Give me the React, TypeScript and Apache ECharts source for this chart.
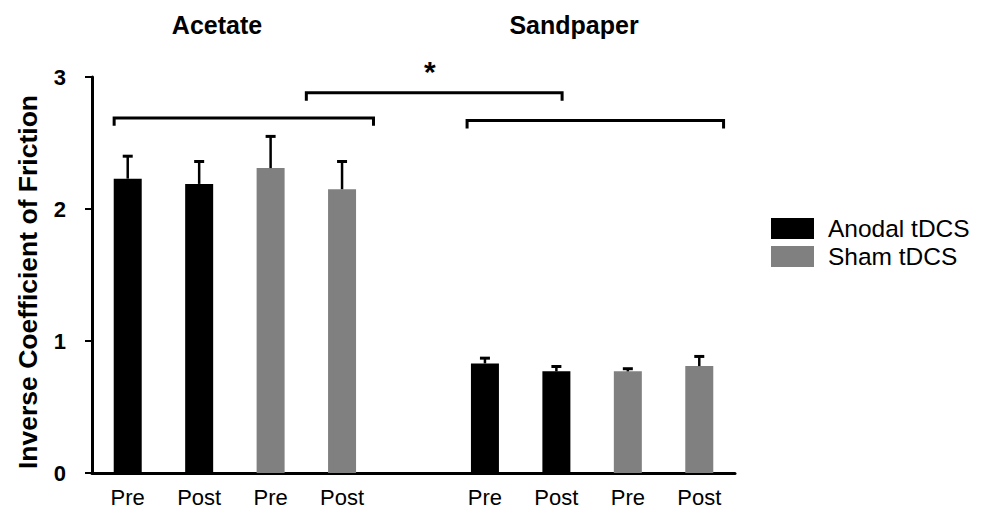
import React, { useEffect, useRef } from "react";
import * as echarts from "echarts";

const categories = ["Pre", "Post", "Pre", "Post", "", "Pre", "Post", "Pre", "Post"];
const anodalValues: (number | string)[] = [2.23, 2.19, "-", "-", "-", 0.83, 0.77, "-", "-"];
const shamValues: (number | string)[] = ["-", "-", 2.31, 2.15, "-", "-", "-", 0.77, 0.81];
const errorUpper: (number | null)[] = [0.17, 0.17, 0.24, 0.21, null, 0.04, 0.037, 0.02, 0.073];
const yTicks = [0, 1, 2, 3];
const groupTitles = ["Acetate", "Sandpaper"];
// brackets: [fromIndex, toIndex, level, drop]
const brackets: number[][] = [
  [-0.19, 3.44, 2.69, 0.06],
  [4.75, 8.34, 2.67, 0.06],
  [2.5, 6.08, 2.88, 0.06],
];
const starAt = [4.23, 3.04];

const FONT = "'Liberation Sans', Arial, Helvetica, sans-serif";

export default function App() {
  const ref = useRef<HTMLDivElement>(null);
  useEffect(() => {
    if (!ref.current) return;
    const chart = echarts.init(ref.current, null, { renderer: "svg" });
    const errData = errorUpper
      .map((e, i) => {
        const v = typeof anodalValues[i] === "number" ? anodalValues[i] : shamValues[i];
        if (e == null || typeof v !== "number") return null;
        return [i, v, v + e];
      })
      .filter((d) => d !== null);

    chart.setOption({
      animation: false,
      grid: { left: 92, right: 250, top: 77, bottom: 34 },
      textStyle: { fontFamily: FONT },
      legend: {
        orient: "vertical",
        left: 766,
        top: 211,
        itemWidth: 43,
        itemHeight: 21,
        itemGap: 3,
        icon: "rect",
        data: ["Anodal tDCS", "Sham tDCS"],
        textStyle: {
          fontSize: 24.5,
          lineHeight: 21,
          color: "#000",
          fontFamily: FONT,
          padding: [0, 0, 0, 9],
        },
      },
      graphic: [
        {
          type: "text",
          x: 217,
          y: 25,
          style: {
            text: groupTitles[0],
            font: `bold 25px ${FONT}`,
            fill: "#000",
            align: "center",
            verticalAlign: "middle",
          },
        },
        {
          type: "text",
          x: 574,
          y: 25,
          style: {
            text: groupTitles[1],
            font: `bold 25px ${FONT}`,
            fill: "#000",
            align: "center",
            verticalAlign: "middle",
          },
        },
      ],
      xAxis: {
        type: "category",
        data: categories,
        axisTick: { show: false },
        axisLine: { lineStyle: { color: "#000", width: 3 } },
        axisLabel: { interval: 0, fontSize: 22, color: "#000", margin: 13, fontFamily: FONT },
      },
      yAxis: {
        type: "value",
        min: yTicks[0],
        max: yTicks[yTicks.length - 1],
        interval: 1,
        splitLine: { show: false },
        axisLine: { show: true, lineStyle: { color: "#000", width: 3 } },
        axisTick: { show: true, length: 7, lineStyle: { color: "#000", width: 2 } },
        axisLabel: { fontSize: 22, fontWeight: "bold", color: "#000", margin: 26, fontFamily: FONT },
        name: "Inverse Coefficient of Friction",
        nameLocation: "middle",
        nameRotate: 90,
        nameGap: 51,
        nameTextStyle: {
          fontSize: 26.5,
          fontWeight: "bold",
          color: "#000",
          fontFamily: FONT,
          padding: [0, 14, 0, 0],
        },
      },
      series: [
        {
          name: "Anodal tDCS",
          type: "bar",
          data: anodalValues,
          barWidth: 28,
          barGap: "-100%",
          itemStyle: { color: "#000" },
        },
        {
          name: "Sham tDCS",
          type: "bar",
          data: shamValues,
          barWidth: 28,
          barGap: "-100%",
          itemStyle: { color: "#808080" },
        },
        {
          type: "custom",
          name: "err",
          data: errData,
          z: 5,
          renderItem: (params: any, api: any) => {
            const x = api.value(0);
            const lo = api.coord([x, api.value(1)]);
            const hi = api.coord([x, api.value(2)]);
            return {
              type: "group",
              children: [
                {
                  type: "line",
                  shape: { x1: lo[0], y1: lo[1], x2: hi[0], y2: hi[1] },
                  style: { stroke: "#000", lineWidth: 2.5 },
                },
                {
                  type: "line",
                  shape: { x1: hi[0] - 5, y1: hi[1], x2: hi[0] + 5, y2: hi[1] },
                  style: { stroke: "#000", lineWidth: 3 },
                },
              ],
            };
          },
        },
        {
          type: "custom",
          name: "brackets",
          data: brackets.map((b) => [0, b[2], b[0], b[1], b[3]]),
          z: 5,
          renderItem: (params: any, api: any) => {
            const base = api.coord([0, api.value(1)]);
            const band = api.size([1, 0])[0];
            const yLo = api.coord([0, api.value(1) - api.value(4)])[1];
            const x0 = base[0] + api.value(2) * band;
            const x1 = base[0] + api.value(3) * band;
            return {
              type: "polyline",
              shape: { points: [[x0, yLo], [x0, base[1]], [x1, base[1]], [x1, yLo]] },
              style: { stroke: "#000", lineWidth: 3, fill: null },
            };
          },
        },
        {
          type: "custom",
          name: "star",
          data: [[0, starAt[1], starAt[0]]],
          z: 5,
          renderItem: (params: any, api: any) => {
            const base = api.coord([0, api.value(1)]);
            const band = api.size([1, 0])[0];
            return {
              type: "text",
              x: base[0] + api.value(2) * band,
              y: base[1],
              style: {
                text: "*",
                font: `bold 30px ${FONT}`,
                fill: "#000",
                align: "center",
                verticalAlign: "middle",
              },
            };
          },
        },
      ],
    });
    return () => chart.dispose();
  }, []);
  return (
    <div
      ref={ref}
      style={{ position: "fixed", left: 0, top: 0, width: 985, height: 508, background: "#fff" }}
    />
  );
}
